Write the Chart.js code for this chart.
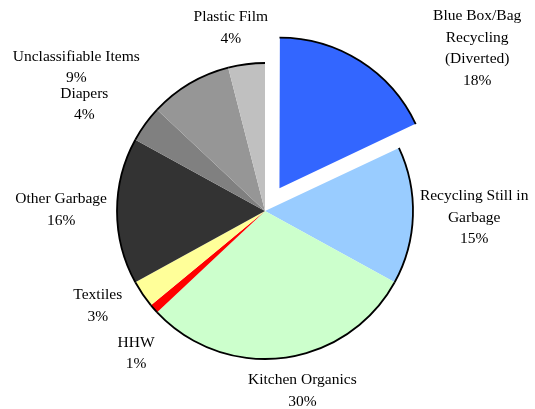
<!DOCTYPE html>
<html>
<head>
<meta charset="utf-8">
<title>Waste composition</title>
<script src="https://cdn.jsdelivr.net/npm/chart.js@4"></script>
<style>
  html, body { margin: 0; padding: 0; background: #fff; }
  #wrap { position: relative; width: 535px; height: 409px; }
</style>
</head>
<body>
<div id="wrap"><canvas id="pie"></canvas></div>
<script>
// data
var categories = [
  ['Blue Box/Bag', 'Recycling', '(Diverted)'],
  ['Recycling Still in', 'Garbage'],
  ['Kitchen Organics'],
  ['HHW'],
  ['Textiles'],
  ['Other Garbage'],
  ['Diapers'],
  ['Unclassifiable Items'],
  ['Plastic Film']
];
var shares = [18, 15, 30, 1, 3, 16, 4, 9, 4];

var colours = ['#3366FF', '#99CCFF', '#CCFFCC', '#FF0000', '#FFFF99',
               '#333333', '#808080', '#969696', '#C0C0C0'];
// label nudges, relative to the point just outside each slice
var nudges = [[76, 51], [-1, 1], [11, 4], [2, 25], [-18, -5],
              [-2, -1], [-35, -2], [-77, 9], [-10, -7]];

var FONT = '15.5px "Liberation Serif", "Times New Roman", serif';
var LH = 21.5;

// black rim on the outside of each slice only
var rimPlugin = {
  id: 'rim',
  afterDatasetsDraw: function(chart) {
    var ctx = chart.ctx;
    chart.getDatasetMeta(0).data.forEach(function(arc) {
      var p = arc.getProps(['x', 'y', 'startAngle', 'endAngle', 'outerRadius', 'circumference']);
      var off = (arc.options.offset || 0) / 4;
      var half = (p.startAngle + p.endAngle) / 2;
      var fix = 1 - Math.sin(Math.min(Math.PI, p.circumference || 0));
      ctx.save();
      ctx.beginPath();
      ctx.arc(p.x + Math.cos(half) * off, p.y + Math.sin(half) * off,
              p.outerRadius + off * fix, p.startAngle, p.endAngle);
      ctx.lineWidth = 1.8;
      ctx.strokeStyle = '#000';
      ctx.stroke();
      ctx.restore();
    });
  }
};

var labelPlugin = {
  id: 'outLabels',
  afterDraw: function(chart) {
    var ctx = chart.ctx;
    ctx.save();
    ctx.font = FONT;
    ctx.fillStyle = '#000';
    ctx.textAlign = 'center';
    ctx.textBaseline = 'middle';
    chart.getDatasetMeta(0).data.forEach(function(arc, i) {
      var p = arc.getProps(['x', 'y', 'startAngle', 'endAngle', 'outerRadius']);
      var off = (arc.options.offset || 0) / 4;
      var half = (p.startAngle + p.endAngle) / 2;
      var ux = Math.cos(half), uy = Math.sin(half);
      var cx = p.x + ux * off, cy = p.y + uy * off;
      var lines = categories[i].concat([shares[i] + '%']);
      var w = 0;
      lines.forEach(function(s) { w = Math.max(w, ctx.measureText(s).width); });
      var h = lines.length * LH;
      var r = p.outerRadius + off + 8;
      var bx = cx + ux * r + ux * w / 2 + nudges[i][0];
      var by = cy + uy * r + uy * h / 2 + nudges[i][1];
      lines.forEach(function(s, k) {
        ctx.fillText(s, bx, by - (lines.length - 1) * LH / 2 + k * LH);
      });
    });
    ctx.restore();
  }
};

new Chart(document.getElementById('pie'), {
  type: 'pie',
  data: {
    labels: categories.map(function(c) { return c.join(' '); }),
    datasets: [{
      data: shares,
      backgroundColor: colours,
      borderWidth: 0,
      offset: [108, 0, 0, 0, 0, 0, 0, 0, 0]
    }]
  },
  options: {
    responsive: true,
    maintainAspectRatio: false,
    animation: false,
    radius: 148,
    layout: { padding: { left: 0, right: 5, top: 13, bottom: 0 } },
    events: [],
    plugins: {
      legend: { display: false },
      tooltip: { enabled: false }
    }
  },
  plugins: [rimPlugin, labelPlugin]
});
</script>
</body>
</html>
